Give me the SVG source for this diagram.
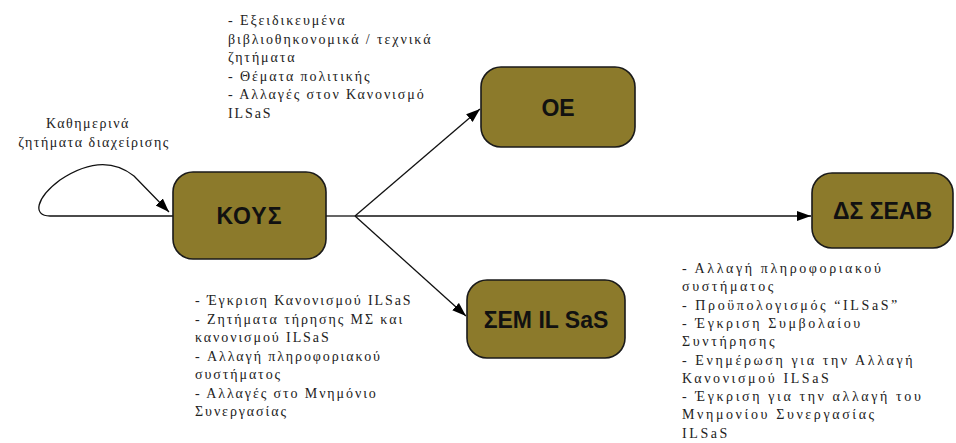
<svg xmlns="http://www.w3.org/2000/svg" width="956" height="443" viewBox="0 0 956 443">
<defs>
<style>
.node rect{fill:#8c7a2b;stroke:#1a1a1a;stroke-width:1.6}
.node text{font-family:"Liberation Sans",Arial,sans-serif;font-weight:bold;font-size:23px;fill:#111;text-anchor:middle}
.lbl{font-family:"Liberation Serif","Times New Roman",serif;font-size:14px;fill:#222;letter-spacing:1.9px}
.lbl.r{letter-spacing:2.6px}
.lbl.c{letter-spacing:1.5px}
.conn{fill:none;stroke:#111;stroke-width:1.3}
</style>
<marker id="ah" markerUnits="userSpaceOnUse" markerWidth="16" markerHeight="12" refX="14" refY="5" orient="auto">
<path d="M0,0 L14,5 L0,10 z" fill="#000"/>
</marker>
</defs>
<rect width="956" height="443" fill="#fff"/>
<g id="connectors">
<path class="conn" d="M326,216 L355,216"/>
<path class="conn" d="M355,216 L811,216" marker-end="url(#ah)"/>
<path class="conn" d="M355,216 L480,109" marker-end="url(#ah)"/>
<path class="conn" d="M355,216 L466,316" marker-end="url(#ah)"/>
<path class="conn" d="M173,216 L50,216 C32,216 36,198 60,180 C84,164 110,157 134,176 L169,212" marker-end="url(#ah)"/>
</g>
<g id="node-koys" class="node"><rect x="173" y="172" width="153" height="87" rx="20"/><text x="249.5" y="224" style="letter-spacing:1px">ΚΟΥΣ</text></g>
<g id="node-oe" class="node"><rect x="481" y="67" width="154" height="80" rx="20"/><text x="558" y="116">ΟΕ</text></g>
<g id="node-sem" class="node"><rect x="467" y="280" width="158" height="78" rx="20"/><text x="546" y="328">ΣΕΜ IL SaS</text></g>
<g id="node-ds" class="node"><rect x="812" y="173" width="141" height="75" rx="20"/><text x="882.5" y="219">ΔΣ ΣΕΑΒ</text></g>
<g id="labels">
<text class="lbl c" x="88" y="128" text-anchor="middle">Καθημερινά</text>
<text class="lbl c" x="94" y="147" text-anchor="middle">ζητήματα διαχείρισης</text>
<text class="lbl" x="228"><tspan x="228" y="25">- Εξειδικευμένα</tspan><tspan x="228" y="43.5">βιβλιοθηκονομικά / τεχνικά</tspan><tspan x="228" y="62">ζητήματα</tspan><tspan x="228" y="80.5">- Θέματα πολιτικής</tspan><tspan x="228" y="99">- Αλλαγές στον Κανονισμό</tspan><tspan x="228" y="117.5">ILSaS</tspan></text>
<text class="lbl" x="195"><tspan x="195" y="305">- Έγκριση Κανονισμού ILSaS</tspan><tspan x="195" y="323.5">- Ζητήματα τήρησης ΜΣ και</tspan><tspan x="195" y="342">κανονισμού ILSaS</tspan><tspan x="195" y="360.5">- Αλλαγή πληροφοριακού</tspan><tspan x="195" y="379">συστήματος</tspan><tspan x="195" y="397.5">- Αλλαγές στο Μνημόνιο</tspan><tspan x="195" y="416">Συνεργασίας</tspan></text>
<text class="lbl r" x="682"><tspan x="682" y="273">- Αλλαγή πληροφοριακού</tspan><tspan x="682" y="291.3">συστήματος</tspan><tspan x="682" y="309.6">- Προϋπολογισμός “ILSaS”</tspan><tspan x="682" y="327.9">- Έγκριση Συμβολαίου</tspan><tspan x="682" y="346.2">Συντήρησης</tspan><tspan x="682" y="364.5">- Ενημέρωση για την Αλλαγή</tspan><tspan x="682" y="382.8">Κανονισμού ILSaS</tspan><tspan x="682" y="401.1">- Έγκριση για την αλλαγή του</tspan><tspan x="682" y="419.4">Μνημονίου Συνεργασίας</tspan><tspan x="682" y="437.7">ILSaS</tspan></text>
</g>
</svg>
